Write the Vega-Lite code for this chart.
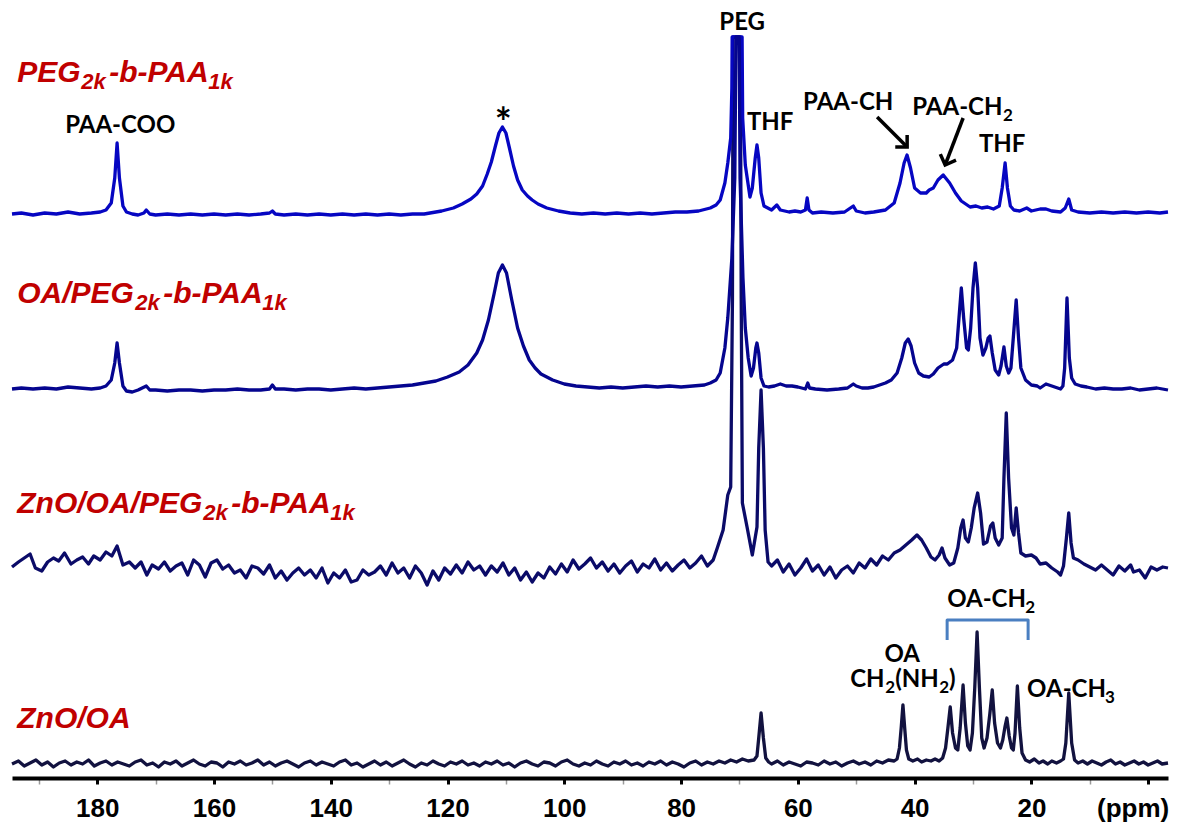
{
  "$schema": "https://vega.github.io/schema/vega-lite/v6.json",
  "width": 1156,
  "height": 778,
  "autosize": {"type": "none"},
  "padding": {"left": 12, "top": 0, "right": 11, "bottom": 47},
  "background": "white",
  "config": {"view": {"stroke": null}},
  "datasets": {
    "t1": [
      {"ppm":194.6,"v":564},{"ppm":193,"v":565},{"ppm":191,"v":563},{"ppm":189,"v":565},{"ppm":187,"v":564},{"ppm":185,"v":566},{"ppm":183,"v":564},{"ppm":181,"v":565},{"ppm":179.5,"v":566},{"ppm":178.5,"v":568},{"ppm":177.6,"v":575},{"ppm":177,"v":600},{"ppm":176.6,"v":635},{"ppm":176.2,"v":600},{"ppm":175.6,"v":572},{"ppm":175,"v":566},{"ppm":174,"v":564},{"ppm":173,"v":563},{"ppm":172,"v":565},{"ppm":171.6,"v":568},{"ppm":171,"v":564},{"ppm":170,"v":563},{"ppm":168,"v":564},{"ppm":166,"v":563},{"ppm":164,"v":564},{"ppm":162,"v":563},{"ppm":160,"v":564},{"ppm":158,"v":563},{"ppm":156,"v":564},{"ppm":154,"v":563},{"ppm":152,"v":564},{"ppm":150.5,"v":565},{"ppm":150,"v":567},{"ppm":149.5,"v":564},{"ppm":148,"v":563},{"ppm":146,"v":564},{"ppm":144,"v":563},{"ppm":142,"v":564},{"ppm":140,"v":563},{"ppm":138,"v":564},{"ppm":136,"v":563},{"ppm":134,"v":564},{"ppm":132,"v":563},{"ppm":130,"v":564},{"ppm":128,"v":563},{"ppm":126,"v":564},{"ppm":124,"v":564},{"ppm":121,"v":567},{"ppm":119,"v":570},{"ppm":117.5,"v":574},{"ppm":116,"v":579},{"ppm":115,"v":584},{"ppm":114,"v":592},{"ppm":113.2,"v":604},{"ppm":112.5,"v":616},{"ppm":111.8,"v":632},{"ppm":111.2,"v":645},{"ppm":110.6,"v":651},{"ppm":110,"v":645},{"ppm":109.4,"v":630},{"ppm":108.7,"v":612},{"ppm":108,"v":598},{"ppm":107.2,"v":588},{"ppm":106.3,"v":582},{"ppm":105.5,"v":578},{"ppm":104.5,"v":574},{"ppm":103,"v":570},{"ppm":101,"v":567},{"ppm":99,"v":565},{"ppm":97,"v":564},{"ppm":95,"v":565},{"ppm":93,"v":564},{"ppm":91,"v":565},{"ppm":89,"v":564},{"ppm":87,"v":565},{"ppm":85,"v":564},{"ppm":83,"v":565},{"ppm":81,"v":566},{"ppm":79,"v":566},{"ppm":77,"v":567},{"ppm":75,"v":570},{"ppm":74,"v":573},{"ppm":73.3,"v":578},{"ppm":72.5,"v":595},{"ppm":72.0,"v":615},{"ppm":71.5,"v":640},{"ppm":71.3,"v":690},{"ppm":71.25,"v":741},{"ppm":69.55,"v":741},{"ppm":69.45,"v":660},{"ppm":69.0,"v":613},{"ppm":68.2,"v":581},{"ppm":67.8,"v":590},{"ppm":67.3,"v":620},{"ppm":67.0,"v":633},{"ppm":66.7,"v":620},{"ppm":66.3,"v":585},{"ppm":65.8,"v":572},{"ppm":64.5,"v":568},{"ppm":63.6,"v":573},{"ppm":63,"v":568},{"ppm":61.5,"v":566},{"ppm":60.5,"v":567},{"ppm":59.5,"v":566},{"ppm":58.7,"v":568},{"ppm":58.4,"v":580},{"ppm":58.1,"v":568},{"ppm":57.5,"v":565},{"ppm":56,"v":566},{"ppm":54,"v":565},{"ppm":52,"v":566},{"ppm":50.5,"v":572},{"ppm":50,"v":567},{"ppm":48.5,"v":565},{"ppm":47,"v":566},{"ppm":45,"v":568},{"ppm":43.5,"v":575},{"ppm":42.5,"v":595},{"ppm":41.8,"v":615},{"ppm":41.3,"v":623},{"ppm":40.7,"v":610},{"ppm":40,"v":590},{"ppm":39,"v":585},{"ppm":38,"v":585},{"ppm":37.5,"v":588},{"ppm":36.8,"v":590},{"ppm":36,"v":598},{"ppm":35.1,"v":603},{"ppm":34,"v":595},{"ppm":33,"v":585},{"ppm":32,"v":577},{"ppm":31,"v":573},{"ppm":30.5,"v":571},{"ppm":29.5,"v":572},{"ppm":28.5,"v":570},{"ppm":27.5,"v":571},{"ppm":26.5,"v":569},{"ppm":25.5,"v":572},{"ppm":25,"v":590},{"ppm":24.5,"v":615},{"ppm":24.1,"v":590},{"ppm":23.6,"v":572},{"ppm":23,"v":568},{"ppm":22,"v":567},{"ppm":20.8,"v":570},{"ppm":20,"v":567},{"ppm":18.5,"v":569},{"ppm":17.5,"v":569},{"ppm":16.5,"v":567},{"ppm":15,"v":566},{"ppm":14.2,"v":570},{"ppm":13.6,"v":579},{"ppm":13.1,"v":568},{"ppm":12,"v":566},{"ppm":10,"v":565},{"ppm":8,"v":566},{"ppm":6,"v":565},{"ppm":4,"v":566},{"ppm":2,"v":565},{"ppm":0,"v":566},{"ppm":-2,"v":565},{"ppm":-3.4,"v":566}
    ],
    "t2": [
      {"ppm":194.6,"v":389},{"ppm":193,"v":390},{"ppm":191,"v":389},{"ppm":189,"v":390},{"ppm":187,"v":389},{"ppm":185,"v":391},{"ppm":183,"v":390},{"ppm":181,"v":389},{"ppm":179.5,"v":390},{"ppm":178.5,"v":392},{"ppm":177.6,"v":398},{"ppm":177,"v":415},{"ppm":176.6,"v":435},{"ppm":176.2,"v":415},{"ppm":175.6,"v":392},{"ppm":175,"v":387},{"ppm":174,"v":386},{"ppm":173,"v":388},{"ppm":171.6,"v":392},{"ppm":171,"v":388},{"ppm":170,"v":388},{"ppm":168,"v":387},{"ppm":166,"v":388},{"ppm":164,"v":388},{"ppm":162,"v":387},{"ppm":160,"v":388},{"ppm":158,"v":388},{"ppm":156,"v":389},{"ppm":154,"v":388},{"ppm":152,"v":388},{"ppm":150.5,"v":389},{"ppm":150,"v":393},{"ppm":149.5,"v":389},{"ppm":148,"v":389},{"ppm":146,"v":388},{"ppm":144,"v":389},{"ppm":142,"v":389},{"ppm":140,"v":388},{"ppm":138,"v":389},{"ppm":136,"v":390},{"ppm":134,"v":389},{"ppm":132,"v":390},{"ppm":130,"v":391},{"ppm":128,"v":392},{"ppm":126,"v":393},{"ppm":124,"v":395},{"ppm":122,"v":397},{"ppm":120,"v":401},{"ppm":118,"v":406},{"ppm":116.5,"v":413},{"ppm":115,"v":425},{"ppm":114,"v":438},{"ppm":113,"v":458},{"ppm":112,"v":485},{"ppm":111.3,"v":505},{"ppm":110.6,"v":513},{"ppm":109.9,"v":505},{"ppm":109,"v":478},{"ppm":108,"v":450},{"ppm":107,"v":432},{"ppm":106,"v":418},{"ppm":105,"v":410},{"ppm":104,"v":404},{"ppm":102,"v":398},{"ppm":100,"v":394},{"ppm":98,"v":392},{"ppm":96,"v":391},{"ppm":94,"v":390},{"ppm":92,"v":391},{"ppm":90,"v":390},{"ppm":88,"v":391},{"ppm":86,"v":392},{"ppm":84,"v":391},{"ppm":82,"v":392},{"ppm":80,"v":391},{"ppm":78,"v":392},{"ppm":76,"v":393},{"ppm":75,"v":395},{"ppm":74,"v":398},{"ppm":73.3,"v":405},{"ppm":72.5,"v":430},{"ppm":72,"v":460},{"ppm":71.3,"v":520},{"ppm":70.8,"v":600},{"ppm":70.6,"v":741},{"ppm":70.05,"v":741},{"ppm":69.9,"v":600},{"ppm":69.4,"v":500},{"ppm":69.0,"v":450},{"ppm":68.5,"v":420},{"ppm":68,"v":402},{"ppm":67.6,"v":410},{"ppm":67.2,"v":430},{"ppm":67.0,"v":435},{"ppm":66.7,"v":425},{"ppm":66.3,"v":400},{"ppm":65.8,"v":392},{"ppm":65,"v":391},{"ppm":64,"v":392},{"ppm":63,"v":394},{"ppm":62,"v":392},{"ppm":61,"v":392},{"ppm":60,"v":391},{"ppm":58.7,"v":389},{"ppm":58.3,"v":395},{"ppm":58,"v":390},{"ppm":57,"v":389},{"ppm":55,"v":388},{"ppm":53,"v":389},{"ppm":51.5,"v":390},{"ppm":50.5,"v":394},{"ppm":50,"v":392},{"ppm":49,"v":390},{"ppm":48,"v":390},{"ppm":47,"v":391},{"ppm":46,"v":393},{"ppm":45,"v":395},{"ppm":44,"v":398},{"ppm":43,"v":405},{"ppm":42.2,"v":420},{"ppm":41.6,"v":435},{"ppm":41.1,"v":439},{"ppm":40.6,"v":432},{"ppm":40,"v":415},{"ppm":39.3,"v":405},{"ppm":38.5,"v":402},{"ppm":37.5,"v":401},{"ppm":36.8,"v":404},{"ppm":36,"v":410},{"ppm":35,"v":414},{"ppm":34.4,"v":414},{"ppm":33.5,"v":418},{"ppm":32.8,"v":430},{"ppm":32.4,"v":460},{"ppm":32.0,"v":490},{"ppm":31.6,"v":460},{"ppm":31.1,"v":430},{"ppm":30.8,"v":428},{"ppm":30.4,"v":450},{"ppm":30.0,"v":490},{"ppm":29.6,"v":515},{"ppm":29.2,"v":490},{"ppm":28.8,"v":440},{"ppm":28.3,"v":423},{"ppm":27.8,"v":430},{"ppm":27.4,"v":440},{"ppm":27.1,"v":442},{"ppm":26.7,"v":425},{"ppm":26.2,"v":408},{"ppm":25.6,"v":403},{"ppm":25.2,"v":412},{"ppm":24.7,"v":431},{"ppm":24.3,"v":412},{"ppm":23.9,"v":405},{"ppm":23.5,"v":410},{"ppm":23.1,"v":440},{"ppm":22.6,"v":478},{"ppm":22.2,"v":440},{"ppm":21.8,"v":410},{"ppm":21,"v":398},{"ppm":20,"v":393},{"ppm":19,"v":392},{"ppm":18.5,"v":390},{"ppm":17.5,"v":394},{"ppm":16.5,"v":392},{"ppm":15.5,"v":390},{"ppm":15,"v":389},{"ppm":14.6,"v":392},{"ppm":14.3,"v":410},{"ppm":13.9,"v":480},{"ppm":13.5,"v":420},{"ppm":13.1,"v":400},{"ppm":12.5,"v":394},{"ppm":11.5,"v":392},{"ppm":10.5,"v":391},{"ppm":9,"v":389},{"ppm":7.5,"v":390},{"ppm":6,"v":389},{"ppm":4.5,"v":389},{"ppm":3,"v":390},{"ppm":1.5,"v":388},{"ppm":0,"v":389},{"ppm":-1.5,"v":390},{"ppm":-3.4,"v":388}
    ],
    "t3": [
      {"ppm":194.6,"v":211},{"ppm":193.5,"v":216},{"ppm":192.5,"v":220},{"ppm":191.5,"v":224},{"ppm":190.6,"v":210},{"ppm":189.5,"v":207},{"ppm":188.5,"v":216},{"ppm":187.5,"v":220},{"ppm":186.6,"v":217},{"ppm":185.6,"v":225},{"ppm":184.5,"v":214},{"ppm":183.5,"v":218},{"ppm":182.5,"v":221},{"ppm":181.5,"v":214},{"ppm":180.6,"v":222},{"ppm":179.5,"v":218},{"ppm":178.5,"v":226},{"ppm":177.5,"v":222},{"ppm":176.6,"v":232},{"ppm":175.6,"v":213},{"ppm":174.5,"v":216},{"ppm":173.5,"v":210},{"ppm":172.5,"v":216},{"ppm":171.5,"v":203},{"ppm":170.6,"v":213},{"ppm":169.5,"v":209},{"ppm":168.5,"v":216},{"ppm":167.5,"v":207},{"ppm":166.5,"v":212},{"ppm":165.5,"v":215},{"ppm":164.5,"v":203},{"ppm":163.5,"v":218},{"ppm":162.5,"v":213},{"ppm":161.5,"v":201},{"ppm":160.5,"v":215},{"ppm":159.5,"v":218},{"ppm":158.5,"v":209},{"ppm":157.5,"v":213},{"ppm":156.5,"v":205},{"ppm":155.5,"v":208},{"ppm":154.5,"v":200},{"ppm":153.5,"v":212},{"ppm":152.5,"v":210},{"ppm":151.5,"v":204},{"ppm":150.5,"v":213},{"ppm":149.5,"v":200},{"ppm":148.5,"v":207},{"ppm":147.5,"v":198},{"ppm":146.5,"v":205},{"ppm":145.5,"v":210},{"ppm":144.5,"v":203},{"ppm":143.5,"v":208},{"ppm":142.5,"v":200},{"ppm":141.5,"v":210},{"ppm":140.5,"v":195},{"ppm":139.5,"v":205},{"ppm":138.5,"v":200},{"ppm":137.5,"v":208},{"ppm":136.5,"v":196},{"ppm":135.5,"v":198},{"ppm":134.5,"v":208},{"ppm":133.5,"v":203},{"ppm":132.5,"v":206},{"ppm":131.5,"v":212},{"ppm":130.5,"v":203},{"ppm":129.5,"v":215},{"ppm":128.5,"v":205},{"ppm":127.5,"v":210},{"ppm":126.5,"v":200},{"ppm":125.5,"v":212},{"ppm":124.5,"v":205},{"ppm":123.5,"v":193},{"ppm":122.5,"v":207},{"ppm":121.5,"v":198},{"ppm":120.5,"v":210},{"ppm":119.5,"v":204},{"ppm":118.5,"v":213},{"ppm":117.5,"v":205},{"ppm":116.5,"v":216},{"ppm":115.5,"v":208},{"ppm":114.5,"v":212},{"ppm":113.5,"v":203},{"ppm":112.5,"v":212},{"ppm":111.5,"v":206},{"ppm":110.5,"v":215},{"ppm":109.5,"v":203},{"ppm":108.5,"v":210},{"ppm":107.5,"v":198},{"ppm":106.5,"v":206},{"ppm":105.5,"v":196},{"ppm":104.5,"v":205},{"ppm":103.5,"v":200},{"ppm":102.5,"v":211},{"ppm":101.5,"v":204},{"ppm":100.5,"v":214},{"ppm":99.5,"v":206},{"ppm":98.5,"v":218},{"ppm":97.5,"v":209},{"ppm":96.5,"v":214},{"ppm":95.5,"v":220},{"ppm":94.5,"v":210},{"ppm":93.5,"v":216},{"ppm":92.5,"v":207},{"ppm":91.5,"v":214},{"ppm":90.5,"v":205},{"ppm":89.5,"v":212},{"ppm":88.5,"v":217},{"ppm":87.5,"v":206},{"ppm":86.5,"v":214},{"ppm":85.5,"v":210},{"ppm":84.5,"v":219},{"ppm":83.5,"v":208},{"ppm":82.5,"v":215},{"ppm":81.5,"v":207},{"ppm":80.5,"v":213},{"ppm":79.5,"v":218},{"ppm":78.5,"v":210},{"ppm":77.5,"v":215},{"ppm":76.5,"v":222},{"ppm":75.5,"v":212},{"ppm":74.5,"v":218},{"ppm":73.8,"v":230},{"ppm":72.8,"v":248},{"ppm":72.0,"v":283},{"ppm":71.5,"v":291},{"ppm":71.2,"v":480},{"ppm":71.1,"v":741},{"ppm":69.85,"v":741},{"ppm":69.7,"v":480},{"ppm":69.5,"v":275},{"ppm":68.7,"v":251},{"ppm":67.8,"v":223},{"ppm":67.0,"v":251},{"ppm":66.7,"v":330},{"ppm":66.3,"v":388},{"ppm":65.9,"v":330},{"ppm":65.6,"v":248},{"ppm":65.1,"v":216},{"ppm":64.5,"v":212},{"ppm":63.5,"v":218},{"ppm":62.5,"v":206},{"ppm":61.5,"v":214},{"ppm":60.5,"v":203},{"ppm":59.5,"v":210},{"ppm":58.5,"v":219},{"ppm":57.5,"v":207},{"ppm":56.5,"v":213},{"ppm":55.5,"v":203},{"ppm":54.5,"v":211},{"ppm":53.5,"v":200},{"ppm":52.5,"v":208},{"ppm":51.5,"v":212},{"ppm":50.5,"v":205},{"ppm":49.5,"v":215},{"ppm":48.5,"v":210},{"ppm":47.5,"v":219},{"ppm":46.5,"v":213},{"ppm":45.5,"v":222},{"ppm":44.5,"v":218},{"ppm":43.5,"v":225},{"ppm":42.5,"v":228},{"ppm":41.5,"v":233},{"ppm":40.5,"v":238},{"ppm":39.6,"v":243},{"ppm":38.8,"v":238},{"ppm":38.0,"v":230},{"ppm":37.2,"v":221},{"ppm":36.5,"v":218},{"ppm":35.8,"v":223},{"ppm":35.3,"v":230},{"ppm":34.8,"v":220},{"ppm":34.0,"v":213},{"ppm":33.3,"v":215},{"ppm":32.6,"v":230},{"ppm":32.1,"v":250},{"ppm":31.7,"v":258},{"ppm":31.3,"v":240},{"ppm":30.8,"v":236},{"ppm":30.3,"v":250},{"ppm":29.8,"v":270},{"ppm":29.2,"v":285},{"ppm":28.7,"v":265},{"ppm":28.2,"v":234},{"ppm":27.6,"v":236},{"ppm":27.0,"v":252},{"ppm":26.6,"v":255},{"ppm":26.2,"v":240},{"ppm":25.6,"v":233},{"ppm":25.0,"v":240},{"ppm":24.7,"v":300},{"ppm":24.3,"v":365},{"ppm":23.9,"v":300},{"ppm":23.4,"v":250},{"ppm":23.0,"v":243},{"ppm":22.6,"v":270},{"ppm":22.2,"v":245},{"ppm":21.8,"v":225},{"ppm":21.0,"v":222},{"ppm":20.0,"v":223},{"ppm":19.2,"v":220},{"ppm":18.5,"v":214},{"ppm":17.5,"v":215},{"ppm":16.5,"v":210},{"ppm":15.5,"v":206},{"ppm":15.0,"v":203},{"ppm":14.5,"v":212},{"ppm":14.0,"v":240},{"ppm":13.6,"v":265},{"ppm":13.2,"v":235},{"ppm":12.8,"v":220},{"ppm":12.0,"v":218},{"ppm":11.0,"v":214},{"ppm":10.0,"v":211},{"ppm":9.0,"v":208},{"ppm":8.0,"v":213},{"ppm":7.0,"v":208},{"ppm":6.0,"v":203},{"ppm":5.0,"v":212},{"ppm":4.0,"v":207},{"ppm":3.0,"v":213},{"ppm":2.5,"v":206},{"ppm":1.5,"v":208},{"ppm":0.5,"v":200},{"ppm":-0.5,"v":211},{"ppm":-1.5,"v":208},{"ppm":-2.5,"v":211},{"ppm":-3.4,"v":210}
    ],
    "t4": [
      {"ppm":194.6,"v":14},{"ppm":193.5,"v":17},{"ppm":192.5,"v":12},{"ppm":191.5,"v":15},{"ppm":190.5,"v":18},{"ppm":189.5,"v":13},{"ppm":188.5,"v":16},{"ppm":187.5,"v":11},{"ppm":186.5,"v":15},{"ppm":185.5,"v":17},{"ppm":184.5,"v":13},{"ppm":183.5,"v":16},{"ppm":182.5,"v":14},{"ppm":181.5,"v":18},{"ppm":180.5,"v":12},{"ppm":179.5,"v":15},{"ppm":178.5,"v":17},{"ppm":177.5,"v":13},{"ppm":176.5,"v":16},{"ppm":175.5,"v":14},{"ppm":174.5,"v":12},{"ppm":173.5,"v":16},{"ppm":172.5,"v":18},{"ppm":171.5,"v":13},{"ppm":170.5,"v":15},{"ppm":169.5,"v":11},{"ppm":168.5,"v":16},{"ppm":167.5,"v":14},{"ppm":166.5,"v":17},{"ppm":165.5,"v":12},{"ppm":164.5,"v":15},{"ppm":163.5,"v":18},{"ppm":162.5,"v":14},{"ppm":161.5,"v":12},{"ppm":160.5,"v":16},{"ppm":159.5,"v":15},{"ppm":158.5,"v":11},{"ppm":157.5,"v":16},{"ppm":156.5,"v":14},{"ppm":155.5,"v":17},{"ppm":154.5,"v":13},{"ppm":153.5,"v":15},{"ppm":152.5,"v":18},{"ppm":151.5,"v":13},{"ppm":150.5,"v":16},{"ppm":149.5,"v":12},{"ppm":148.5,"v":15},{"ppm":147.5,"v":17},{"ppm":146.5,"v":14},{"ppm":145.5,"v":11},{"ppm":144.5,"v":15},{"ppm":143.5,"v":17},{"ppm":142.5,"v":13},{"ppm":141.5,"v":16},{"ppm":140.5,"v":14},{"ppm":139.5,"v":12},{"ppm":138.5,"v":16},{"ppm":137.5,"v":18},{"ppm":136.5,"v":13},{"ppm":135.5,"v":15},{"ppm":134.5,"v":11},{"ppm":133.5,"v":14},{"ppm":132.5,"v":17},{"ppm":131.5,"v":13},{"ppm":130.5,"v":16},{"ppm":129.5,"v":12},{"ppm":128.5,"v":15},{"ppm":127.5,"v":18},{"ppm":126.5,"v":14},{"ppm":125.5,"v":11},{"ppm":124.5,"v":15},{"ppm":123.5,"v":13},{"ppm":122.5,"v":17},{"ppm":121.5,"v":14},{"ppm":120.5,"v":12},{"ppm":119.5,"v":16},{"ppm":118.5,"v":14},{"ppm":117.5,"v":17},{"ppm":116.5,"v":13},{"ppm":115.5,"v":15},{"ppm":114.5,"v":12},{"ppm":113.5,"v":16},{"ppm":112.5,"v":14},{"ppm":111.5,"v":17},{"ppm":110.5,"v":13},{"ppm":109.5,"v":15},{"ppm":108.5,"v":11},{"ppm":107.5,"v":15},{"ppm":106.5,"v":17},{"ppm":105.5,"v":14},{"ppm":104.5,"v":12},{"ppm":103.5,"v":16},{"ppm":102.5,"v":15},{"ppm":101.5,"v":12},{"ppm":100.5,"v":16},{"ppm":99.5,"v":18},{"ppm":98.5,"v":14},{"ppm":97.5,"v":12},{"ppm":96.5,"v":15},{"ppm":95.5,"v":13},{"ppm":94.5,"v":17},{"ppm":93.5,"v":14},{"ppm":92.5,"v":12},{"ppm":91.5,"v":16},{"ppm":90.5,"v":14},{"ppm":89.5,"v":17},{"ppm":88.5,"v":13},{"ppm":87.5,"v":15},{"ppm":86.5,"v":12},{"ppm":85.5,"v":16},{"ppm":84.5,"v":14},{"ppm":83.5,"v":17},{"ppm":82.5,"v":13},{"ppm":81.5,"v":16},{"ppm":80.5,"v":14},{"ppm":79.5,"v":11},{"ppm":78.5,"v":15},{"ppm":77.5,"v":17},{"ppm":76.5,"v":13},{"ppm":75.5,"v":16},{"ppm":74.5,"v":14},{"ppm":73.5,"v":17},{"ppm":72.5,"v":15},{"ppm":71.5,"v":18},{"ppm":70.5,"v":16},{"ppm":69.5,"v":19},{"ppm":68.5,"v":17},{"ppm":67.5,"v":18},{"ppm":67.0,"v":22},{"ppm":66.7,"v":40},{"ppm":66.3,"v":65},{"ppm":65.9,"v":40},{"ppm":65.5,"v":20},{"ppm":65.0,"v":16},{"ppm":64.5,"v":14},{"ppm":63.5,"v":17},{"ppm":62.5,"v":13},{"ppm":61.5,"v":16},{"ppm":60.5,"v":14},{"ppm":59.5,"v":12},{"ppm":58.5,"v":16},{"ppm":57.5,"v":15},{"ppm":56.5,"v":13},{"ppm":55.5,"v":17},{"ppm":54.5,"v":14},{"ppm":53.5,"v":16},{"ppm":52.5,"v":12},{"ppm":51.5,"v":15},{"ppm":50.5,"v":17},{"ppm":49.5,"v":14},{"ppm":48.5,"v":16},{"ppm":47.5,"v":13},{"ppm":46.5,"v":17},{"ppm":45.5,"v":15},{"ppm":44.5,"v":18},{"ppm":43.5,"v":17},{"ppm":43.0,"v":19},{"ppm":42.6,"v":30},{"ppm":42.3,"v":50},{"ppm":42.0,"v":73},{"ppm":41.7,"v":50},{"ppm":41.4,"v":28},{"ppm":41.0,"v":19},{"ppm":40.3,"v":17},{"ppm":39.5,"v":19},{"ppm":38.8,"v":16},{"ppm":38.0,"v":18},{"ppm":37.2,"v":17},{"ppm":36.5,"v":19},{"ppm":35.8,"v":17},{"ppm":35.2,"v":20},{"ppm":34.7,"v":30},{"ppm":34.3,"v":50},{"ppm":33.9,"v":71},{"ppm":33.5,"v":45},{"ppm":33.0,"v":30},{"ppm":32.6,"v":28},{"ppm":32.2,"v":50},{"ppm":31.7,"v":93},{"ppm":31.3,"v":55},{"ppm":30.9,"v":32},{"ppm":30.5,"v":28},{"ppm":30.1,"v":45},{"ppm":29.7,"v":90},{"ppm":29.3,"v":146},{"ppm":28.9,"v":90},{"ppm":28.5,"v":40},{"ppm":28.1,"v":30},{"ppm":27.6,"v":40},{"ppm":27.1,"v":65},{"ppm":26.7,"v":88},{"ppm":26.3,"v":55},{"ppm":25.8,"v":35},{"ppm":25.3,"v":30},{"ppm":24.9,"v":38},{"ppm":24.5,"v":52},{"ppm":24.2,"v":60},{"ppm":23.8,"v":42},{"ppm":23.4,"v":30},{"ppm":23.1,"v":28},{"ppm":22.8,"v":45},{"ppm":22.4,"v":92},{"ppm":22.0,"v":50},{"ppm":21.6,"v":25},{"ppm":21.0,"v":18},{"ppm":20.3,"v":16},{"ppm":19.5,"v":19},{"ppm":18.7,"v":15},{"ppm":18.0,"v":17},{"ppm":17.2,"v":14},{"ppm":16.5,"v":17},{"ppm":15.7,"v":15},{"ppm":15.0,"v":17},{"ppm":14.5,"v":19},{"ppm":14.1,"v":35},{"ppm":13.6,"v":85},{"ppm":13.1,"v":35},{"ppm":12.6,"v":18},{"ppm":12.0,"v":15},{"ppm":11.2,"v":17},{"ppm":10.4,"v":14},{"ppm":9.6,"v":17},{"ppm":8.8,"v":15},{"ppm":8.0,"v":13},{"ppm":7.2,"v":16},{"ppm":6.4,"v":18},{"ppm":5.6,"v":14},{"ppm":4.8,"v":16},{"ppm":4.0,"v":13},{"ppm":3.2,"v":15},{"ppm":2.4,"v":17},{"ppm":1.6,"v":14},{"ppm":0.8,"v":16},{"ppm":0,"v":13},{"ppm":-0.8,"v":15},{"ppm":-1.6,"v":17},{"ppm":-2.4,"v":14},{"ppm":-3.4,"v":15}
    ],
    "redBig": [
      {"ppm":193.7,"v":696,"text":"PEG"},{"ppm":177.94,"v":696,"text":"-b-PAA"},
      {"ppm":193.7,"v":475,"text":"OA/PEG"},{"ppm":168.7,"v":475,"text":"-b-PAA"},
      {"ppm":193.7,"v":265,"text":"ZnO/OA/PEG"},{"ppm":157.05,"v":265,"text":"-b-PAA"},
      {"ppm":193.7,"v":50,"text":"ZnO/OA"}
    ],
    "redSub": [
      {"ppm":182.74,"v":689,"text":"2k"},{"ppm":160.99,"v":689,"text":"1k"},
      {"ppm":173.49,"v":468,"text":"2k"},{"ppm":151.74,"v":468,"text":"1k"},
      {"ppm":161.85,"v":258,"text":"2k"},{"ppm":140.1,"v":258,"text":"1k"}
    ],
    "annCenter": [
      {"ppm":176.06,"v":645,"text":"PAA-COO"},{"ppm":69.54,"v":748,"text":"PEG"},{"ppm":64.74,"v":648,"text":"THF"},{"ppm":51.38,"v":668,"text":"PAA-CH"},{"ppm":25.0,"v":626,"text":"THF"},{"ppm":42.13,"v":116,"text":"OA"}
    ],
    "annLeft": [
      {"ppm":40.42,"v":663,"text":"PAA-CH"},{"ppm":34.43,"v":171,"text":"OA-CH"},{"ppm":51.04,"v":91,"text":"CH"},{"ppm":43.33,"v":91,"text":"(NH"},{"ppm":34.09,"v":91,"text":")"},{"ppm":20.73,"v":81,"text":"OA-CH"}
    ],
    "annSub": [
      {"ppm":24.84,"v":657,"text":"2"},{"ppm":21.07,"v":165,"text":"2"},{"ppm":45.04,"v":85,"text":"2"},{"ppm":35.8,"v":85,"text":"2"},{"ppm":7.37,"v":75,"text":"3"}
    ],
    "star": [{"ppm":110.47,"v":641,"text":"*"}],
    "unit": [{"ppm":2.57,"v":-39,"text":"(ppm)"}],
    "bracket": [
      {"ppm":34.43,"v":138,"o":1},{"ppm":34.43,"v":158,"o":2},{"ppm":20.56,"v":158,"o":3},{"ppm":20.56,"v":138,"o":4}
    ],
    "arrows": [
      {"ppm":46.42,"v":661,"ppm2":41.28,"v2":631},{"ppm":31.69,"v":660,"ppm2":34.77,"v2":613}
    ],
    "head1": [{"ppm":41.28,"v":631}],
    "head2": [{"ppm":34.77,"v":613}]
  },
  "encoding": {
    "x": {
      "field": "ppm", "type": "quantitative",
      "scale": {"domain": [194.6, -3.4], "nice": false, "zero": false},
      "axis": {
        "values": [190,180,170,160,150,140,130,120,110,100,90,80,70,60,50,40,30,20,10,0],
        "labelExpr": "(datum.value % 20 === 0 && datum.value > 0) ? datum.label : ''",
        "title": null, "grid": false,
        "domainColor": "black", "domainWidth": 4,
        "tickColor": {"condition": {"test": "datum.value % 20 === 0", "value": "black"}, "value": "#9a9a9a"},
        "tickWidth": {"condition": {"test": "datum.value % 20 === 0", "value": 3}, "value": 1.5},
        "tickSize": 6,
        "labelFont": "Liberation Sans", "labelFontSize": 26, "labelFontWeight": "bold", "labelColor": "black",
        "labelPadding": 11, "labelFlush": false, "labelOverlap": false
      }
    },
    "y": {"field": "v", "type": "quantitative", "scale": {"domain": [0, 778], "nice": false, "zero": false}, "axis": null}
  },
  "layer": [
    {"data": {"name": "t4"}, "mark": {"type": "line", "color": "#12123f", "strokeWidth": 3.3, "strokeJoin": "round"}},
    {"data": {"name": "t3"}, "mark": {"type": "line", "color": "#0b0b68", "strokeWidth": 3.3, "strokeJoin": "round"}},
    {"data": {"name": "t1"}, "mark": {"type": "line", "color": "#0606c2", "strokeWidth": 3.3, "strokeJoin": "round"}},
    {"data": {"name": "t2"}, "mark": {"type": "line", "color": "#05058f", "strokeWidth": 3.3, "strokeJoin": "round"}},
    {"data": {"name": "bracket"}, "mark": {"type": "line", "color": "#4a7fc1", "strokeWidth": 3, "strokeJoin": "round"}, "encoding": {"order": {"field": "o", "type": "quantitative"}}},
    {"data": {"name": "arrows"}, "mark": {"type": "rule", "color": "black", "strokeWidth": 3.5}, "encoding": {"x2": {"field": "ppm2"}, "y2": {"field": "v2"}}},
    {"data": {"name": "head1"}, "mark": {"type": "point", "shape": "M -0.6 0.6 L 0 0 L 0.6 0.6", "size": 784, "angle": 135, "filled": false, "stroke": "black", "strokeWidth": 3.5, "opacity": 1, "strokeJoin": "miter"}},
    {"data": {"name": "head2"}, "mark": {"type": "point", "shape": "M -0.6 0.6 L 0 0 L 0.6 0.6", "size": 784, "angle": 201, "filled": false, "stroke": "black", "strokeWidth": 3.5, "opacity": 1, "strokeJoin": "miter"}},
    {"data": {"name": "redBig"}, "mark": {"type": "text", "align": "left", "baseline": "alphabetic", "font": "Liberation Sans", "fontSize": 30, "fontWeight": "bold", "fontStyle": "italic", "color": "#c00000"}, "encoding": {"text": {"field": "text"}}},
    {"data": {"name": "redSub"}, "mark": {"type": "text", "align": "left", "baseline": "alphabetic", "font": "Liberation Sans", "fontSize": 22, "fontWeight": "bold", "fontStyle": "italic", "color": "#c00000"}, "encoding": {"text": {"field": "text"}}},
    {"data": {"name": "annCenter"}, "mark": {"type": "text", "align": "center", "baseline": "alphabetic", "font": "Lato", "fontSize": 24, "fontWeight": "bold", "color": "black"}, "encoding": {"text": {"field": "text"}}},
    {"data": {"name": "annLeft"}, "mark": {"type": "text", "align": "left", "baseline": "alphabetic", "font": "Lato", "fontSize": 24, "fontWeight": "bold", "color": "black"}, "encoding": {"text": {"field": "text"}}},
    {"data": {"name": "annSub"}, "mark": {"type": "text", "align": "left", "baseline": "alphabetic", "font": "Lato", "fontSize": 17, "fontWeight": "bold", "color": "black"}, "encoding": {"text": {"field": "text"}}},
    {"data": {"name": "star"}, "mark": {"type": "text", "align": "center", "baseline": "alphabetic", "font": "Lato", "fontSize": 40, "fontWeight": "bold", "color": "black"}, "encoding": {"text": {"field": "text"}}},
    {"data": {"name": "unit"}, "mark": {"type": "text", "align": "center", "baseline": "alphabetic", "font": "Liberation Sans", "fontSize": 26, "fontWeight": "bold", "color": "black"}, "encoding": {"text": {"field": "text"}}}
  ]
}
